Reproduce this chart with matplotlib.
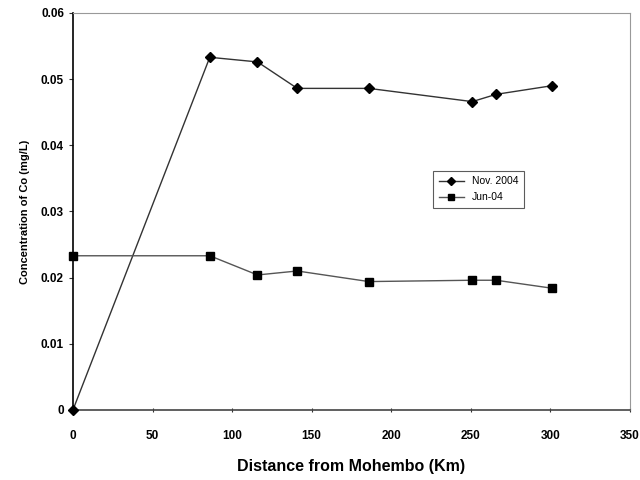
import matplotlib.pyplot as plt

# Cobalt concentration along the river, two sampling campaigns
dist_nov = [0, 86, 116, 141, 186, 251, 266, 301]
co_nov = [0.0, 0.0533, 0.0526, 0.0486, 0.0486, 0.0466, 0.0477, 0.0490]

dist_jun = [0, 86, 116, 141, 186, 251, 266, 301]
co_jun = [0.0233, 0.0233, 0.0204, 0.0210, 0.0194, 0.0196, 0.0196, 0.0184]

xticks = [0, 50, 100, 150, 200, 250, 300, 350]
yticks = [0, 0.01, 0.02, 0.03, 0.04, 0.05, 0.06]
ytick_labels = ["0", "0.01", "0.02", "0.03", "0.04", "0.05", "0.06"]

plt.rcParams['font.family'] = ['Liberation Sans', 'DejaVu Sans']

fig = plt.figure(figsize=(6.4, 4.8), dpi=100)
ax = fig.add_axes([0.114, 0.146, 0.870, 0.827])

ax.plot(dist_nov, co_nov, color='#333333', linewidth=1.0, marker='D',
        markersize=5, markerfacecolor='black', markeredgecolor='black',
        label='Nov. 2004', clip_on=False, zorder=3)
ax.plot(dist_jun, co_jun, color='#555555', linewidth=1.0, marker='s',
        markersize=6, markerfacecolor='black', markeredgecolor='black',
        label='Jun-04', clip_on=False, zorder=3)

ax.set_xlim(0, 350)
ax.set_ylim(0, 0.06)
ax.set_xticks(xticks)
ax.set_yticks(yticks)
ax.set_yticklabels(ytick_labels)
ax.tick_params(axis='both', labelsize=8.5, length=3, width=0.8, color='#333333')
ax.tick_params(axis='x', direction='inout', pad=13)
for lab in ax.get_xticklabels() + ax.get_yticklabels():
    lab.set_fontweight('bold')

ax.set_xlabel('Distance from Mohembo (Km)', fontsize=11.5, fontweight='bold', labelpad=12)
ax.set_ylabel('Concentration of Co (mg/L)', fontsize=8, fontweight='bold', labelpad=8)

ax.spines['left'].set_color('black')
ax.spines['left'].set_linewidth(1.2)
ax.spines['bottom'].set_color('#444444')
ax.spines['bottom'].set_linewidth(1.2)
for side in ['top', 'right']:
    ax.spines[side].set_color('#999999')
    ax.spines[side].set_linewidth(0.8)
    ax.spines[side].set_linestyle((0, (2, 1)))

leg = ax.legend(loc='upper left', bbox_to_anchor=(0.638, 0.615), fontsize=7.5,
                frameon=True, fancybox=False, borderpad=0.5, handlelength=2.4,
                labelspacing=0.6)
leg.get_frame().set_edgecolor('#333333')
leg.get_frame().set_linewidth(0.8)
for h in leg.legend_handles:
    h.set_markersize(4.5)

fig.savefig('out.png', dpi=100)
